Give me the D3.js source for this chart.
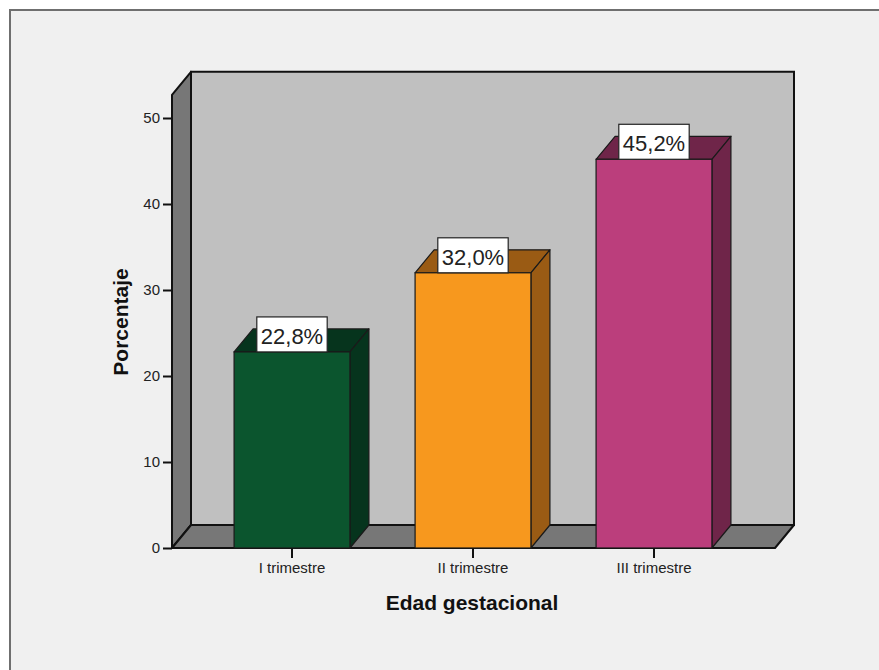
<!DOCTYPE html>
<html>
<head>
<meta charset="utf-8">
<script src="https://cdn.jsdelivr.net/npm/d3@7"></script>
<style>
  html, body { margin: 0; padding: 0; background: #ffffff; }
  svg { display: block; font-family: "Liberation Sans", Arial, sans-serif; }
</style>
</head>
<body>
<svg id="chart" width="879" height="670"></svg>
<script>
// Data
const categories = ["I trimestre", "II trimestre", "III trimestre"];
const values = [22.8, 32.0, 45.2];
const valueLabels = ["22,8%", "32,0%", "45,2%"];
const yTicks = [0, 10, 20, 30, 40, 50];
const frontColors = ["#0b552e", "#f7981e", "#bb3e7c"];
const shadeColors = ["#06341d", "#9a5b14", "#6f2549"];

const svg = d3.select("#chart");

// Panel background with top/left frame line
svg.append("rect").attr("x", 10).attr("y", 10).attr("width", 880).attr("height", 680)
  .attr("fill", "#f0f0f0");
svg.append("path").attr("d", "M10,680 L10,10 L890,10")
  .attr("fill", "none").attr("stroke", "#6f6f6f").attr("stroke-width", 2);

// 3D frame geometry
const x0 = 172, x1 = 775;      // front floor edge
const yBase = 548;             // front floor line (value 0)
const dx = 19, dy = -23;       // depth offset

const y = d3.scaleLinear().domain([0, 50]).range([yBase, 118]);
const yMax = 52.7;             // top of the walls in data units

const x = d3.scaleBand().domain(categories)
  .range([201.5, 744.5]).paddingInner(0.36).paddingOuter(0.18);

const frame = svg.append("g");
const poly = pts => "M" + pts.map(p => p.join(",")).join("L") + "Z";

// back wall
frame.append("path")
  .attr("d", poly([[x0 + dx, y(yMax) + dy], [x1 + dx, y(yMax) + dy], [x1 + dx, yBase + dy], [x0 + dx, yBase + dy]]))
  .attr("fill", "#c0c0c0").attr("stroke", "#111").attr("stroke-width", 2);
// left wall
frame.append("path")
  .attr("d", poly([[x0, yBase], [x0, y(yMax)], [x0 + dx, y(yMax) + dy], [x0 + dx, yBase + dy]]))
  .attr("fill", "#777777").attr("stroke", "#111").attr("stroke-width", 2).attr("stroke-linejoin", "round");
// floor
frame.append("path")
  .attr("d", poly([[x0, yBase], [x1, yBase], [x1 + dx, yBase + dy], [x0 + dx, yBase + dy]]))
  .attr("fill", "#777777").attr("stroke", "#111").attr("stroke-width", 2).attr("stroke-linejoin", "round");

// Bars
const bars = svg.append("g").selectAll("g").data(values).join("g");
bars.each(function (v, i) {
  const g = d3.select(this);
  const bx = x(categories[i]), bw = x.bandwidth(), top = y(v);
  // top face
  g.append("path")
    .attr("d", poly([[bx, top], [bx + bw, top], [bx + bw + dx, top + dy], [bx + dx, top + dy]]))
    .attr("fill", shadeColors[i]).attr("stroke", "#1a1a1a").attr("stroke-width", 1.2).attr("stroke-linejoin", "round");
  // side face
  g.append("path")
    .attr("d", poly([[bx + bw, top], [bx + bw + dx, top + dy], [bx + bw + dx, yBase + dy], [bx + bw, yBase]]))
    .attr("fill", shadeColors[i]).attr("stroke", "#1a1a1a").attr("stroke-width", 1.2).attr("stroke-linejoin", "round");
  // front face
  g.append("rect").attr("x", bx).attr("y", top).attr("width", bw).attr("height", yBase - top)
    .attr("fill", frontColors[i]).attr("stroke", "#1a1a1a").attr("stroke-width", 1.2);
});

// Value labels
const labels = svg.append("g").selectAll("g").data(values).join("g");
labels.each(function (v, i) {
  const g = d3.select(this);
  const cx = x(categories[i]) + x.bandwidth() / 2, top = y(v);
  const t = g.append("text").attr("x", cx).attr("y", top - 8)
    .attr("text-anchor", "middle").attr("font-size", 22).attr("fill", "#222")
    .text(valueLabels[i]);
  const w = t.node().getComputedTextLength() + 8;
  g.insert("rect", "text").attr("x", cx - w / 2).attr("y", top - 35).attr("width", w).attr("height", 35)
    .attr("fill", "#ffffff").attr("stroke", "#222").attr("stroke-width", 1.2);
});

// Y axis
const yAxis = svg.append("g").attr("transform", `translate(${x0},0)`)
  .call(d3.axisLeft(y).tickValues(yTicks).tickSize(9).tickPadding(3).tickFormat(d3.format("d")));
yAxis.select(".domain").remove();
yAxis.selectAll(".tick line").attr("stroke", "#111").attr("stroke-width", 2);
yAxis.selectAll(".tick text").attr("font-size", 15).attr("fill", "#222")
  .attr("font-family", "'Liberation Sans', Arial, sans-serif");

// X axis
const xAxis = svg.append("g").attr("transform", `translate(0,${yBase})`)
  .call(d3.axisBottom(x).tickSize(10).tickPadding(4));
xAxis.select(".domain").remove();
xAxis.selectAll(".tick line").attr("stroke", "#111").attr("stroke-width", 2);
xAxis.selectAll(".tick text").attr("font-size", 15).attr("fill", "#222")
  .attr("font-family", "'Liberation Sans', Arial, sans-serif");

// Axis titles
svg.append("text").attr("x", 472).attr("y", 610).attr("text-anchor", "middle")
  .attr("font-size", 21).attr("font-weight", "bold").attr("fill", "#111")
  .text("Edad gestacional");
svg.append("text").attr("transform", "translate(128,322) rotate(-90)").attr("text-anchor", "middle")
  .attr("font-size", 21).attr("font-weight", "bold").attr("fill", "#111")
  .text("Porcentaje");
</script>
</body>
</html>
